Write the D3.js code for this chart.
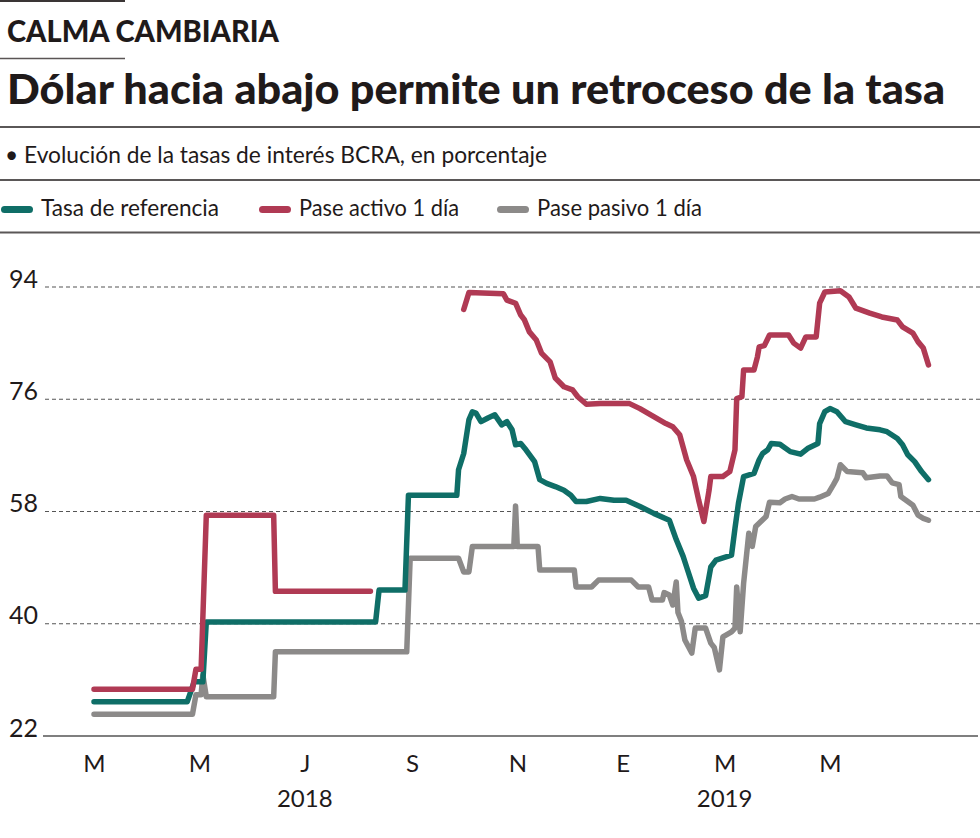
<!DOCTYPE html>
<html>
<head>
<meta charset="utf-8">
<script src="https://cdn.jsdelivr.net/npm/d3@7"></script>
<style>
  html, body { margin: 0; padding: 0; background: #fff; }
  svg { display: block; }
  text { fill: #1f1a1a; }
</style>
</head>
<body>
<svg id="chart" width="980" height="838"></svg>
<script>
// ---------- DATA ----------
const kicker = "CALMA CAMBIARIA";
const title = "Dólar hacia abajo permite un retroceso de la tasa";
const subtitle = "• Evolución de la tasas de interés BCRA, en porcentaje";
const seriesNames = ["Tasa de referencia", "Pase activo 1 día", "Pase pasivo 1 día"];
const seriesColors = ["#0f6e67", "#b03a54", "#8c8a89"];

const yTicks = [22, 40, 58, 76, 94];
const monthTicks = ["2018-03-01","2018-05-01","2018-07-01","2018-09-01","2018-11-01","2019-01-01","2019-03-01","2019-05-01"];
const monthLabels = ["M","M","J","S","N","E","M","M"];
const yearTicks = ["2018-07-01","2019-03-01"];
const yearLabels = ["2018","2019"];

const tasaReferencia = [
  ["2018-03-01",27.5],["2018-04-24",27.5],["2018-04-28",30.7],["2018-05-03",30.7],["2018-05-05",40.3],
  ["2018-08-11",40.3],["2018-08-13",45.4],["2018-08-28",45.4],["2018-08-30",60.6],["2018-09-27",60.6],
  ["2018-09-28",64.7],["2018-10-01",67.3],["2018-10-04",72.7],["2018-10-06",74.0],["2018-10-08",73.8],
  ["2018-10-11",72.4],["2018-10-15",73.0],["2018-10-19",73.5],["2018-10-23",71.9],["2018-10-26",72.4],
  ["2018-10-29",71.1],["2018-10-31",68.7],["2018-11-03",68.9],["2018-11-06",67.9],["2018-11-11",66.0],
  ["2018-11-14",63.1],["2018-11-18",62.5],["2018-11-23",62.0],["2018-11-28",61.4],["2018-12-02",60.6],
  ["2018-12-05",59.6],["2018-12-11",59.6],["2018-12-19",60.1],["2018-12-27",59.8],["2019-01-03",59.8],
  ["2019-01-11",58.8],["2019-01-19",57.7],["2019-01-28",56.6],["2019-02-01",53.5],["2019-02-05",50.8],
  ["2019-02-07",49.1],["2019-02-11",45.7],["2019-02-14",44.1],["2019-02-18",44.5],["2019-02-21",49.1],
  ["2019-02-24",50.2],["2019-03-05",51.0],["2019-03-07",55.3],["2019-03-09",59.3],["2019-03-12",63.6],
  ["2019-03-18",64.1],["2019-03-21",66.3],["2019-03-23",67.3],["2019-03-26",67.9],["2019-03-28",68.9],
  ["2019-04-02",68.8],["2019-04-08",67.6],["2019-04-14",67.2],["2019-04-18",68.1],["2019-04-24",68.9],
  ["2019-04-25",72.1],["2019-04-28",74.0],["2019-05-01",74.5],["2019-05-05",74.0],["2019-05-10",72.4],
  ["2019-05-16",71.9],["2019-05-22",71.4],["2019-05-30",71.1],["2019-06-03",70.8],["2019-06-09",69.7],
  ["2019-06-12",68.7],["2019-06-15",67.1],["2019-06-19",66.0],["2019-06-23",64.4],["2019-06-27",63.1]
];

const paseActivo = [
  ["2018-03-01",29.5],["2018-04-27",29.5],["2018-04-29",32.7],["2018-05-02",32.7],["2018-05-05",57.4],
  ["2018-06-13",57.4],["2018-06-14",45.2],["2018-08-08",45.2],["2018-08-09",null],
  ["2018-10-01",90.4],["2018-10-04",93.1],["2018-10-24",92.9],["2018-10-26",91.9],["2018-10-31",91.4],
  ["2018-11-03",89.5],["2018-11-05",88.8],["2018-11-08",86.8],["2018-11-12",85.5],["2018-11-15",83.4],
  ["2018-11-20",82.0],["2018-11-23",79.4],["2018-11-28",78.0],["2018-12-03",77.5],["2018-12-06",76.4],
  ["2018-12-11",75.2],["2018-12-19",75.3],["2019-01-05",75.3],["2019-01-11",74.5],["2019-01-19",73.2],
  ["2019-01-26",72.1],["2019-01-30",71.6],["2019-02-03",70.3],["2019-02-07",66.3],["2019-02-11",63.6],
  ["2019-02-14",59.8],["2019-02-17",56.4],["2019-02-20",61.4],["2019-02-21",63.6],["2019-02-28",63.6],
  ["2019-03-04",64.4],["2019-03-07",67.9],["2019-03-08",76.1],["2019-03-11",76.4],["2019-03-12",80.7],
  ["2019-03-18",80.7],["2019-03-20",82.8],["2019-03-21",84.4],["2019-03-24",84.6],["2019-03-27",86.3],
  ["2019-04-07",86.3],["2019-04-10",85.0],["2019-04-14",84.2],["2019-04-17",86.0],["2019-04-23",86.0],
  ["2019-04-25",91.4],["2019-04-28",93.2],["2019-05-07",93.4],["2019-05-12",92.4],["2019-05-16",90.6],
  ["2019-05-24",89.8],["2019-05-31",89.2],["2019-06-09",88.7],["2019-06-12",87.6],["2019-06-18",86.6],
  ["2019-06-21",85.2],["2019-06-24",84.2],["2019-06-27",81.5]
];

const pasePasivo = [
  ["2018-03-01",25.5],["2018-04-27",25.5],["2018-04-29",28.6],["2018-05-02",28.6],["2018-05-03",31.8],
  ["2018-05-05",28.3],["2018-06-13",28.3],["2018-06-14",35.5],["2018-08-29",35.5],["2018-08-31",50.5],
  ["2018-09-28",50.5],["2018-10-01",48.3],["2018-10-04",48.3],["2018-10-06",52.4],["2018-10-30",52.4],
  ["2018-10-31",58.9],["2018-11-01",52.4],["2018-11-13",52.4],["2018-11-14",48.6],["2018-12-04",48.6],
  ["2018-12-05",45.9],["2018-12-14",45.9],["2018-12-18",47.0],["2019-01-06",47.0],["2019-01-10",45.9],
  ["2019-01-16",45.9],["2019-01-18",43.8],["2019-01-24",43.8],["2019-01-25",45.0],["2019-01-28",44.6],
  ["2019-01-30",43.0],["2019-02-01",46.7],["2019-02-02",41.8],["2019-02-04",40.4],["2019-02-06",37.4],
  ["2019-02-10",35.3],["2019-02-12",39.3],["2019-02-18",39.3],["2019-02-21",36.9],["2019-02-23",36.2],
  ["2019-02-26",32.6],["2019-02-28",37.9],["2019-03-05",38.7],["2019-03-07",39.3],["2019-03-08",45.9],
  ["2019-03-10",38.7],["2019-03-12",46.5],["2019-03-15",54.5],["2019-03-17",52.4],["2019-03-19",55.6],
  ["2019-03-22",56.4],["2019-03-25",57.2],["2019-03-27",59.5],["2019-04-02",59.4],["2019-04-05",60.0],
  ["2019-04-09",60.4],["2019-04-13",60.0],["2019-04-22",60.0],["2019-04-25",60.3],["2019-04-30",60.9],
  ["2019-05-03",62.3],["2019-05-05",63.3],["2019-05-07",65.5],["2019-05-11",64.4],["2019-05-20",64.2],
  ["2019-05-22",63.4],["2019-05-30",63.7],["2019-06-03",63.7],["2019-06-06",62.6],["2019-06-10",62.3],
  ["2019-06-11",60.4],["2019-06-15",59.6],["2019-06-18",59.0],["2019-06-21",57.4],["2019-06-24",56.9],
  ["2019-06-27",56.6]
];

// ---------- CHART ----------
const parse = d3.timeParse("%Y-%m-%d");
const svg = d3.select("#chart");
const bodyFont = "Lato, 'Open Sans', 'Noto Sans', sans-serif";
const headFont = "Lato, 'Open Sans', sans-serif";

// header rules
const rule = (x1, x2, yy, w, c) => svg.append("line")
  .attr("x1", x1).attr("x2", x2).attr("y1", yy).attr("y2", yy)
  .attr("stroke", c).attr("stroke-width", w);
rule(0, 125, 1, 2, "#3a3535");
rule(0, 125, 58.5, 1.5, "#5a5555");
rule(0, 980, 127, 2, "#5a5757");
rule(0, 980, 180, 2, "#5a5757");
rule(0, 980, 232.5, 2, "#5a5757");

svg.append("text").text(kicker)
  .attr("x", 7).attr("y", 42)
  .attr("font-family", headFont).attr("font-weight", 900).attr("font-size", 30)
  .attr("textLength", 272).attr("lengthAdjust", "spacingAndGlyphs");

svg.append("text").text(title)
  .attr("x", 7).attr("y", 103.5)
  .attr("font-family", headFont).attr("font-weight", 900).attr("font-size", 41)
  .attr("textLength", 938).attr("lengthAdjust", "spacingAndGlyphs");

svg.append("text").text(subtitle)
  .attr("x", 5).attr("y", 162.5)
  .attr("font-family", bodyFont).attr("font-size", 24)
  .attr("textLength", 542).attr("lengthAdjust", "spacingAndGlyphs");

// legend
const legendX = [0, 258, 496];
const legendTextW = [178, 160, 165];
const lg = svg.append("g").selectAll("g").data(seriesNames).join("g")
  .attr("transform", (d, i) => `translate(${legendX[i]},0)`);
lg.append("rect").attr("x", 1).attr("y", 206).attr("width", 32).attr("height", 7).attr("rx", 3.5)
  .attr("fill", (d, i) => seriesColors[i]);
lg.append("text").text(d => d)
  .attr("x", 41).attr("y", 215.5)
  .attr("font-family", bodyFont).attr("font-size", 23)
  .attr("textLength", (d, i) => legendTextW[i]).attr("lengthAdjust", "spacingAndGlyphs");

// scales
const x = d3.scaleTime()
  .domain([parse("2018-03-01"), parse("2019-05-01")])
  .range([94, 830]);
const y = d3.scaleLinear().domain([22, 94]).range([736, 287]);

// gridlines
svg.append("g").selectAll("line").data(yTicks.filter(v => v !== 22)).join("line")
  .attr("x1", 45).attr("x2", 980)
  .attr("y1", d => y(d)).attr("y2", d => y(d))
  .attr("stroke", "#555").attr("stroke-width", 1.1).attr("stroke-dasharray", "4,3");

// y axis labels
const yAxis = svg.append("g").attr("transform", "translate(44,0)")
  .call(d3.axisLeft(y).tickValues(yTicks).tickSize(0).tickPadding(6).tickFormat(d3.format("d")));
yAxis.select(".domain").remove();
yAxis.selectAll("text").attr("dy", "0em")
  .attr("font-family", bodyFont).attr("font-size", 25).attr("fill", "#1f1a1a");

// x axis
const xAxis = svg.append("g").attr("transform", "translate(0,736)")
  .call(d3.axisBottom(x).tickValues(monthTicks.map(parse)).tickSize(0)
    .tickFormat((d, i) => monthLabels[i]));
xAxis.select(".domain").remove();
xAxis.selectAll("text").attr("y", 36).attr("dy", 0)
  .attr("font-family", bodyFont).attr("font-size", 24).attr("fill", "#1f1a1a");

svg.append("line").attr("x1", 43).attr("x2", 978).attr("y1", 736).attr("y2", 736)
  .attr("stroke", "#555").attr("stroke-width", 1.6);

svg.append("g").selectAll("text").data(yearTicks).join("text")
  .text((d, i) => yearLabels[i])
  .attr("x", d => x(parse(d))).attr("y", 807)
  .attr("text-anchor", "middle")
  .attr("font-family", bodyFont).attr("font-size", 24);

// lines
const line = d3.line()
  .defined(d => d[1] != null)
  .x(d => x(parse(d[0])))
  .y(d => y(d[1]));

const drawOrder = [[pasePasivo, 2], [tasaReferencia, 0], [paseActivo, 1]];
svg.append("g").selectAll("path").data(drawOrder).join("path")
  .attr("d", d => line(d[0]))
  .attr("fill", "none")
  .attr("stroke", d => seriesColors[d[1]])
  .attr("stroke-width", 5.5)
  .attr("stroke-linejoin", "round")
  .attr("stroke-linecap", "round");
</script>
</body>
</html>
